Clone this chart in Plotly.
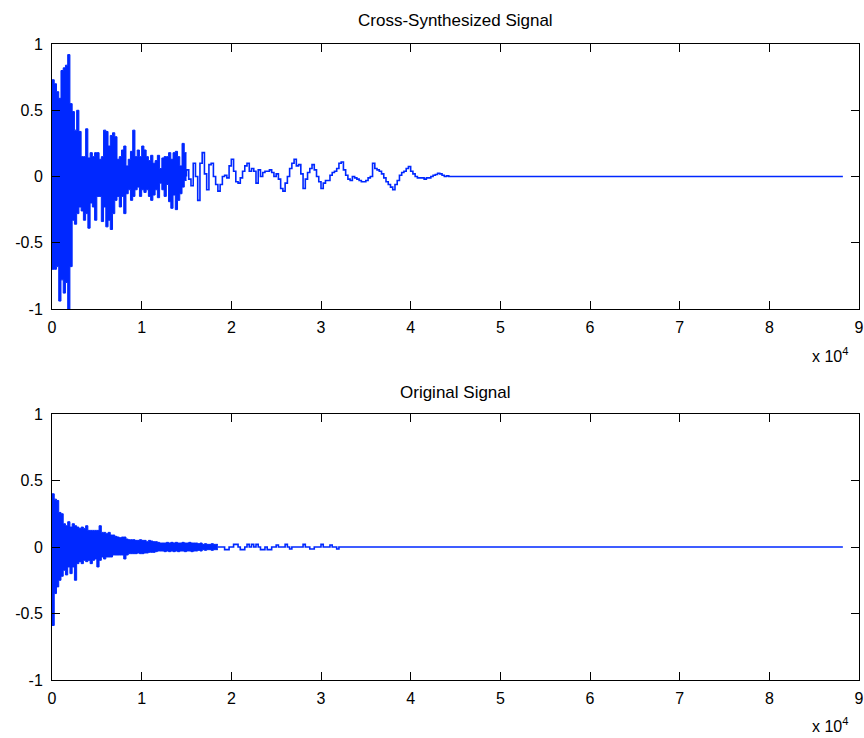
import plotly.graph_objects as go

STEP = 250  # samples between read-off points

# ---- Cross-Synthesized Signal ----
# dense part: upper / lower envelope per step (samples 0 .. 14750)
cross_hi = [0.73, 0.70, 0.64, 0.59, 0.80, 0.82, 0.84, 0.92, 0.55, 0.49,
            0.35, 0.50, 0.34, 0.15, 0.15, 0.36, 0.14, 0.18, 0.15, 0.18,
            0.18, 0.13, 0.15, 0.35, 0.34, 0.23, 0.31, 0.33, 0.30, 0.13,
            0.15, 0.20, 0.23, 0.08, 0.13, 0.19, 0.35, 0.15, 0.20, 0.15,
            0.23, 0.20, 0.15, 0.12, 0.16, 0.10, 0.12, 0.16, 0.06, 0.14,
            0.15, 0.15, 0.18, 0.13, 0.18, 0.19, 0.15, 0.08, 0.25, 0.18]
cross_lo = [-0.70, -0.70, -0.68, -0.94, -0.78, -0.88, -0.80, -1.00, -0.68, -0.33,
            -0.36, -0.28, -0.23, -0.26, -0.33, -0.28, -0.39, -0.20, -0.23, -0.33,
            -0.15, -0.15, -0.34, -0.23, -0.38, -0.33, -0.40, -0.28, -0.18, -0.15,
            -0.23, -0.15, -0.28, -0.13, -0.10, -0.18, -0.15, -0.10, -0.08, -0.15,
            -0.10, -0.12, -0.10, -0.15, -0.18, -0.14, -0.10, -0.16, -0.05, -0.10,
            -0.15, -0.06, -0.19, -0.24, -0.14, -0.25, -0.18, -0.13, -0.08, -0.03]
# sparse part: single values per step (samples 15000 .. 44500)
cross_line = [0.05, -0.02, -0.07, 0.10, 0.0, -0.18, 0.10, 0.18, 0.02, -0.10,
              0.09, 0.10, 0.0, -0.06, -0.11, -0.06, 0.0, 0.01, -0.01, 0.08,
              0.13, 0.04, -0.04, -0.05, -0.01, 0.04, 0.08, 0.10, 0.04, 0.06,
              0.04, -0.05, 0.05, 0.0, 0.03, 0.04, 0.04, 0.05,
              0.03, 0.0, 0.02, -0.02, -0.09, -0.11, -0.05, 0.0, 0.06, 0.10,
              0.13, 0.08, 0.09, 0.02, -0.09, -0.02, 0.03, 0.06, 0.09, 0.05,
              0.0, -0.04, -0.09, -0.05, -0.03, -0.03, 0.01, 0.03, 0.04, 0.06,
              0.10, 0.11, 0.05, 0.01, -0.02, -0.03, 0.0, -0.01, -0.02, -0.03,
              -0.04, -0.04,
              -0.03, -0.01, 0.0, 0.10, 0.06, 0.05, 0.04, 0.02, -0.01, -0.04,
              -0.06, -0.08, -0.10, -0.06, -0.03, 0.01, 0.03, 0.04, 0.06, 0.075,
              0.04, 0.02, 0.0, -0.01, -0.01, -0.01, -0.02, -0.01, -0.01, 0.0,
              0.01, 0.015, 0.025, 0.02, 0.01, 0.0, 0.005, 0.0, 0.0]
cross_end_sample = 88200

# ---- Original Signal ----
orig_hi = [0.40, 0.36, 0.35, 0.26, 0.25, 0.175, 0.16, 0.19, 0.15, 0.175,
           0.16, 0.15, 0.14, 0.15, 0.14, 0.16, 0.125, 0.125, 0.125, 0.125,
           0.125, 0.16, 0.11, 0.11, 0.10, 0.11, 0.09, 0.09, 0.08, 0.075,
           0.07, 0.075, 0.075, 0.06, 0.055, 0.055, 0.055, 0.05, 0.05, 0.055,
           0.05, 0.05, 0.04, 0.05, 0.045, 0.04, 0.04, 0.035, 0.03, 0.03,
           0.03, 0.035, 0.03, 0.035, 0.03, 0.035, 0.03, 0.03, 0.035, 0.03,
           0.03, 0.035, 0.03, 0.03, 0.03, 0.025, 0.03, 0.02, 0.025, 0.02,
           0.02, 0.025, 0.02, 0.02]
orig_lo = [-0.59, -0.35, -0.30, -0.25, -0.22, -0.175, -0.21, -0.15, -0.20, -0.15,
           -0.25, -0.125, -0.11, -0.125, -0.10, -0.11, -0.10, -0.125, -0.10, -0.09,
           -0.15, -0.10, -0.075, -0.09, -0.075, -0.075, -0.075, -0.06, -0.06, -0.06,
           -0.06, -0.06, -0.09, -0.06, -0.05, -0.05, -0.05, -0.05, -0.045, -0.05,
           -0.05, -0.045, -0.045, -0.04, -0.04, -0.04, -0.035, -0.03, -0.03, -0.03,
           -0.035, -0.03, -0.035, -0.03, -0.035, -0.03, -0.035, -0.03, -0.03, -0.035,
           -0.03, -0.03, -0.035, -0.03, -0.03, -0.025, -0.03, -0.02, -0.025, -0.02,
           -0.02, -0.025, -0.02, -0.02]
orig_line = [0.0, 0.0, 0.0, -0.02, -0.02, 0.0, 0.0, 0.02, 0.02, 0.0,
             -0.02, -0.02, 0.0, 0.02, 0.0, 0.02, 0.0, 0.02, 0.0, -0.02,
             -0.02, 0.0, -0.02, -0.02, 0.0, 0.0, 0.015, 0.0, 0.0, 0.0,
             0.02, 0.0, -0.015, 0.0, 0.0, 0.0, 0.0, 0.0, 0.02, 0.0,
             0.0, -0.015, -0.015, 0.0, 0.0, 0.0, 0.02, 0.0, 0.0, 0.0,
             0.015, 0.0, 0.0, -0.015, 0.0]
orig_end_sample = 88200

x_ticks = [0, 10000, 20000, 30000, 40000, 50000, 60000, 70000, 80000, 90000]
x_tick_labels = ["0", "1", "2", "3", "4", "5", "6", "7", "8", "9"]
y_ticks = [-1, -0.5, 0, 0.5, 1]
y_tick_labels = ["-1", "-0.5", "0", "0.5", "1"]
titles = ["Cross-Synthesized Signal", "Original Signal"]

BLUE = "rgb(0,40,255)"
FONT = "Liberation Sans, Arial, Helvetica, sans-serif"
FS = 16


def add_signal(fig, hi, lo, line, end, xa, ya):
    n = len(hi)
    xd = [i * STEP for i in range(n)] + [n * STEP]
    # dense part: band between envelopes
    fig.add_trace(go.Scatter(x=xd, y=list(hi) + [hi[-1]], mode="lines",
                             line=dict(color=BLUE, width=1, shape="hv"),
                             xaxis=xa, yaxis=ya, showlegend=False, hoverinfo="skip"))
    fig.add_trace(go.Scatter(x=xd, y=list(lo) + [lo[-1]], mode="lines",
                             line=dict(color=BLUE, width=1, shape="hv"),
                             fill="tonexty", fillcolor=BLUE,
                             xaxis=xa, yaxis=ya, showlegend=False, hoverinfo="skip"))
    # sparse part
    xs = [n * STEP] + [(n + j) * STEP for j in range(len(line))] + [end]
    ys = [0.0] + list(line) + [0.0]
    fig.add_trace(go.Scatter(x=xs, y=ys, mode="lines",
                             line=dict(color=BLUE, width=1.6, shape="hv"),
                             xaxis=xa, yaxis=ya, showlegend=False))


fig = go.Figure()
add_signal(fig, cross_hi, cross_lo, cross_line, cross_end_sample, "x", "y")
add_signal(fig, orig_hi, orig_lo, orig_line, orig_end_sample, "x2", "y2")

axis_common = dict(ticks="inside", ticklen=8, tickcolor="black", tickwidth=1,
                   showline=True, linecolor="black", linewidth=1, mirror="ticks",
                   showgrid=False, zeroline=False, automargin=False,
                   tickfont=dict(family=FONT, size=FS, color="black"))
xax = dict(range=[0, 90000], tickvals=x_ticks, ticktext=x_tick_labels,
           ticklabelstandoff=4, **axis_common)
yax = dict(range=[-1, 1], tickvals=y_ticks, ticktext=y_tick_labels,
           ticklabelstandoff=5, **axis_common)

fig.update_layout(
    width=864, height=738,
    margin=dict(l=52, r=5, t=44, b=58, autoexpand=False),
    paper_bgcolor="white", plot_bgcolor="white",
    xaxis=dict(domain=[0, 1], anchor="y", **xax),
    yaxis=dict(domain=[0.5833, 1.0], anchor="x", **yax),
    xaxis2=dict(domain=[0, 1], anchor="y2", **xax),
    yaxis2=dict(domain=[0.0, 0.4182], anchor="x2", **yax),
    annotations=[
        dict(text=titles[0], x=0.5, y=1.0377, xref="paper", yref="paper",
             xanchor="center", yanchor="middle", showarrow=False,
             font=dict(family=FONT, size=17, color="black")),
        dict(text=titles[1], x=0.5, y=0.4528, xref="paper", yref="paper",
             xanchor="center", yanchor="middle", showarrow=False,
             font=dict(family=FONT, size=17, color="black")),
        dict(text="x 10<sup>4</sup>", x=0.989, y=0.511, xref="paper", yref="paper",
             xanchor="right", yanchor="middle", showarrow=False,
             font=dict(family=FONT, size=FS, color="black")),
        dict(text="x 10<sup>4</sup>", x=0.989, y=-0.071, xref="paper", yref="paper",
             xanchor="right", yanchor="middle", showarrow=False,
             font=dict(family=FONT, size=FS, color="black")),
    ],
)

fig.write_html("out.html", config={"displayModeBar": False},
               post_script="document.body.style.margin='0';document.body.style.overflow='hidden';")
